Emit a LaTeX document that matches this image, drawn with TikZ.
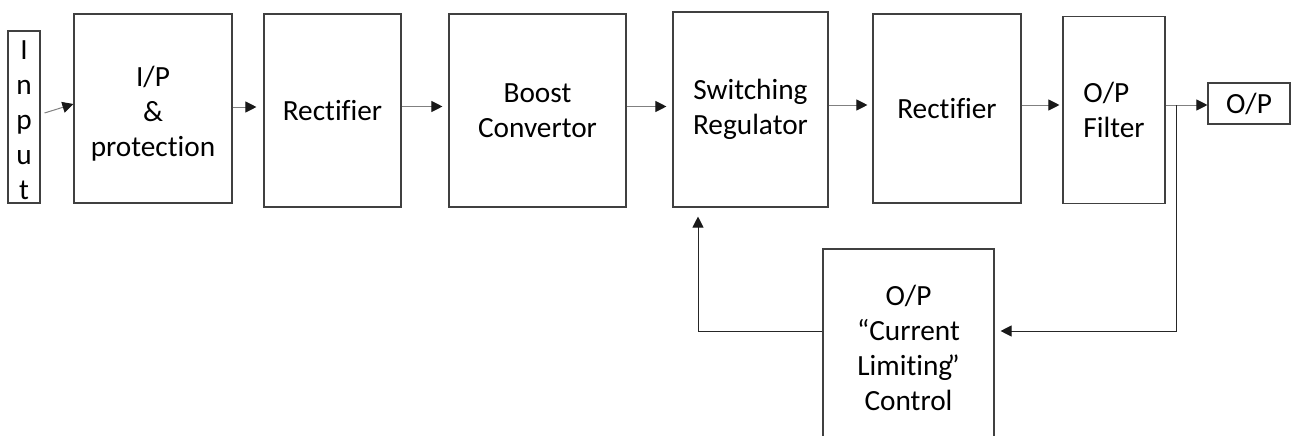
\documentclass[tikz,border=0pt]{standalone}
\usepackage{fontspec}
\setmainfont{Carlito}[Ligatures={NoCommon}]
\usetikzlibrary{arrows.meta,calc}
\begin{document}
\begin{tikzpicture}[x=1pt,y=-1pt,
  txt/.style={inner sep=0pt,align=center,font=\fontsize{29.3}{35}\selectfont},
  blk/.style={txt,draw=black!75,line width=1.1pt},
  tip/.style={-{Triangle[length=11pt,width=11pt,color=black!90]}},
  arr/.style={draw=black!50,line width=1pt,tip},
  fb/.style={draw=black!85,line width=1pt,tip}]
\useasboundingbox (0,0) rectangle (1291,436);
\clip (0,0) rectangle (1291,436);
\node[blk,minimum width=32pt,minimum height=172pt] (inp) at (24,117) {};
\node[txt] (inpt) at (24,120) {I\\n\\p\\u\\t};
\node[blk,minimum width=158pt,minimum height=189pt] (io) at (153,108.5) {};
\node[txt] (iot) at (153,114) {I/P\\\&\\protection};
\node[blk,minimum width=137pt,minimum height=193pt] (r1) at (332.5,110.5) {Rectifier};
\node[blk,minimum width=177pt,minimum height=193pt] (bc) at (537.5,110.5) {Boost\\Convertor};
\node[blk,minimum width=155pt,minimum height=195pt] (sw) at (750.5,109.5) {Switching\\Regulator};
\node[blk,minimum width=148pt,minimum height=189pt] (r2) at (947,108.5) {Rectifier};
\node[blk,minimum width=102pt,minimum height=187pt,align=left] (fl) at (1114,110) {O/P\\Filter};
\node[blk,minimum width=82pt,minimum height=41pt] (op) at (1249,103.5) {O/P};
\node[blk,minimum width=171pt,minimum height=197pt] (ctrl) at (908.5,347.5) {O/P\\“Current\\Limiting\kern-5pt”\\Control};
\coordinate (j) at (1176,105);
\coordinate (fbr) at (1176,331);
\coordinate (fbl) at (698,331);
\draw[arr] ($(inp.east)+(4,-4)$) -- ($(io.west)+(0,-4.5)$);
\draw[arr,shorten >=7pt] (io.east |- 0,107) -- (r1.west |- 0,107);
\draw[arr,shorten >=6pt] (r1.east |- 0,106.5) -- (bc.west |- 0,106.5);
\draw[arr,shorten >=6pt] (bc.east |- 0,106.5) -- (sw.west |- 0,106.5);
\draw[arr,shorten >=5pt] (sw.east |- 0,105) -- (r2.west |- 0,105);
\draw[arr,shorten >=3pt] (r2.east |- 0,105) -- (fl.west |- 0,105);
\draw[arr] (fl.east |- j) -- (op.west |- j);
\draw[fb,shorten >=6pt] (j) -- (fbr) -- (ctrl.east |- fbr);
\draw[fb,shorten >=9pt] (ctrl.west |- fbl) -- (fbl) -- (sw.south -| fbl);
\end{tikzpicture}
\end{document}
